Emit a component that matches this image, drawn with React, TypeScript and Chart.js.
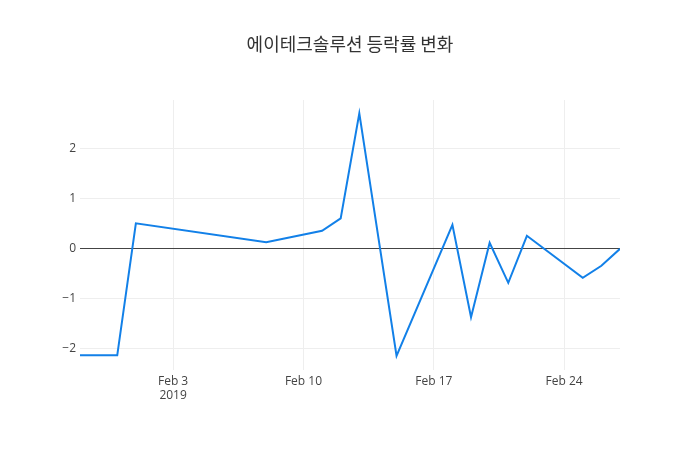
import React, { useEffect, useRef } from "react";
import { Chart, registerables } from "chart.js";

Chart.register(...registerables);

const TITLE = "에이테크솔루션 등락률 변화";
const dates = [
  "2019-01-29", "2019-01-31", "2019-02-01", "2019-02-08", "2019-02-11",
  "2019-02-12", "2019-02-13", "2019-02-15", "2019-02-18", "2019-02-19",
  "2019-02-20", "2019-02-21", "2019-02-22", "2019-02-25", "2019-02-26",
  "2019-02-27",
];
const changes = [
  -2.14, -2.14, 0.5, 0.12, 0.35, 0.6, 2.7, -2.15, 0.47, -1.38,
  0.11, -0.69, 0.25, -0.59, -0.35, -0.01,
];
const xTickDates = ["2019-02-03", "2019-02-10", "2019-02-17", "2019-02-24"];
const xTickLabels = [["Feb 3", "2019"], ["Feb 10"], ["Feb 17"], ["Feb 24"]];
const yTicks = [-2, -1, 0, 1, 2];

const ts = (d: string) => Date.parse(d + "T00:00:00Z");

export default function App() {
  const ref = useRef<HTMLCanvasElement | null>(null);
  useEffect(() => {
    if (!ref.current) return;
    const font = "'Open Sans', 'Noto Sans', sans-serif";
    const titlePlugin = {
      id: "titlePlugin",
      afterDraw(chart: any) {
        const c = chart.ctx;
        c.save();
        c.fillStyle = "#333";
        c.font = `18px 'Noto Sans CJK KR', ${font}`;
        c.textAlign = "center";
        c.textBaseline = "middle";
        c.fillText(TITLE, 350, 44);
        c.restore();
      },
    };
    const chart = new Chart(ref.current, {
      type: "line",
      data: {
        datasets: [
          {
            data: dates.map((d, i) => ({ x: ts(d), y: changes[i] })),
            borderColor: "rgb(18,128,232)",
            borderWidth: 2,
            pointRadius: 0,
            tension: 0,
            fill: false,
          },
        ],
      },
      options: {
        responsive: false,
        animation: false,
        devicePixelRatio: 1,
        layout: { padding: { top: 100, right: 80, left: 0, bottom: 0 } },
        plugins: { legend: { display: false }, tooltip: { enabled: false } },
        scales: {
          x: {
            type: "linear",
            min: ts(dates[0]),
            max: ts(dates[dates.length - 1]),
            afterBuildTicks: (s: any) => {
              s.ticks = xTickDates.map((d) => ({ value: ts(d) }));
            },
            afterFit: (s: any) => {
              s.height = 80;
            },
            ticks: {
              autoSkip: false,
              maxRotation: 0,
              padding: 4,
              color: "#444",
              font: { family: font, size: 12 },
              callback: (v: any) => {
                const i = xTickDates.findIndex((d) => ts(d) === v);
                return i >= 0 ? xTickLabels[i] : "";
              },
            },
            grid: { color: "#eee", lineWidth: 1, drawTicks: false },
            border: { display: false },
          },
          y: {
            type: "linear",
            min: -2.434,
            max: 2.966,
            afterBuildTicks: (s: any) => {
              s.ticks = yTicks.map((v) => ({ value: v }));
            },
            afterFit: (s: any) => {
              s.width = 80;
            },
            ticks: {
              padding: 4,
              color: "#444",
              font: { family: font, size: 12 },
              callback: (v: any) => (v < 0 ? "\u2212" + Math.abs(v) : String(v)),
            },
            grid: {
              color: (c: any) => (c.tick && c.tick.value === 0 ? "#444" : "#eee"),
              lineWidth: 1,
              drawTicks: false,
            },
            border: { display: false },
          },
        },
      },
      plugins: [titlePlugin],
    });
    return () => chart.destroy();
  }, []);
  return (
    <div style={{ position: "fixed", left: 0, top: 0, width: 700, height: 450, background: "#fff" }}>
      <canvas ref={ref} width={700} height={450} />
    </div>
  );
}
